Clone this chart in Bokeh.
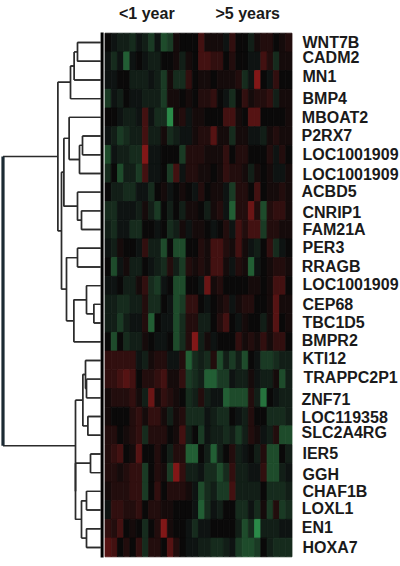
from bokeh.plotting import figure
from bokeh.models import Range1d, ColumnDataSource, LinearColorMapper
from bokeh.core.properties import value
from bokeh.embed import file_html
from bokeh.resources import INLINE

GENES = ["WNT7B","CADM2","MN1","BMP4","MBOAT2","P2RX7","LOC1001909","LOC1001909","ACBD5","CNRIP1",
         "FAM21A","PER3","RRAGB","LOC1001909","CEP68","TBC1D5","BMPR2","KTI12","TRAPPC2P1","ZNF71",
         "LOC119358","SLC2A4RG","IER5","GGH","CHAF1B","LOXL1","EN1","HOXA7"]
GROUPS = ["<1 year", ">5 years"]

# expression per gene (rows) and sample (columns): + red, - green
EXPR = [
 [0,-1,-2,-2,-3,-1,-2,-4,-1,-5,-4,1,0,0,0,4,1,1,1,-1,3,0,0,-2,1,2,2,0,1,2],
 [-1,-3,-1,-6,-1,0,-1,-2,-2,0,0,1,-2,1,0,4,4,3,3,0,2,0,0,-1,-1,4,2,-3,1,1],
 [-1,-1,0,0,-2,-2,-2,-1,-2,-4,1,-3,-3,3,0,1,1,0,1,1,1,2,-3,-1,7,0,-1,3,0,0],
 [-4,-1,-2,0,-1,-1,-2,-2,-2,-4,1,1,0,1,0,2,2,3,0,-1,-3,0,3,1,2,2,3,-2,1,1],
 [0,0,-1,-2,-2,-1,4,-1,-3,-3,-8,1,2,-1,1,1,0,0,0,4,4,1,0,5,5,0,0,0,0,1],
 [-1,-2,-4,-3,-2,-2,4,-2,-2,1,-3,-2,-1,-1,1,2,2,5,1,1,-3,1,1,-1,-1,-2,1,2,1,1],
 [-5,-1,-2,-2,-3,-3,7,-1,-1,0,0,0,-4,2,2,2,1,1,1,3,0,2,2,0,0,0,2,-1,2,0],
 [-3,0,-5,-2,-2,-4,4,-1,-1,0,-4,4,-1,2,2,1,1,0,1,3,2,2,1,-2,1,0,1,-1,-1,1],
 [0,-2,-2,-3,-3,-1,-1,-3,0,1,-1,0,1,0,-1,2,0,1,1,-1,-4,2,2,0,4,0,1,1,2,1],
 [-3,-3,-1,-1,-1,-2,1,-2,-4,0,-2,0,-2,1,1,0,-2,1,2,-1,-6,2,2,6,2,-5,2,3,3,1],
 [-2,-3,-1,-1,-3,-3,0,0,-1,0,-3,-2,1,-1,1,1,0,-1,0,2,-1,4,2,4,4,-4,2,2,1,1],
 [-1,-2,1,0,0,-1,3,-2,-2,-5,0,-5,-5,0,0,2,1,4,4,2,1,4,1,-1,-2,0,3,-3,-1,0],
 [0,-5,-1,1,-2,-2,0,-1,-2,-3,2,-2,-4,2,1,2,1,4,4,1,-1,2,1,-6,-1,0,1,2,2,1],
 [-1,-1,0,-2,-2,1,3,-3,-4,-1,0,-5,-5,0,0,-1,6,1,2,0,0,0,0,1,1,0,1,4,4,0],
 [-2,-2,-3,-3,-2,-2,2,-3,-3,0,-1,-5,-4,3,3,0,-1,0,1,2,-1,1,2,2,0,0,1,5,1,1],
 [-2,-2,-4,-2,-1,-1,2,-6,0,-1,-1,-5,-3,2,2,-2,-2,0,2,4,0,-1,1,0,0,-2,1,5,0,1],
 [0,-5,0,-3,-2,-2,1,0,-1,-1,0,-5,-3,2,7,-2,1,-1,0,0,0,3,1,2,1,3,1,3,3,0],
 [3,3,3,3,3,-1,-2,1,2,2,-1,-1,2,-6,-3,-2,-3,2,-5,-2,-4,-2,-5,0,-1,-4,-4,-3,-2,-2],
 [3,3,4,5,4,0,2,2,3,4,1,1,3,-4,-3,-2,-6,-6,-4,-4,-1,-2,-2,1,-1,-2,-2,1,-5,-2],
 [1,2,2,2,3,1,-2,6,1,3,2,1,0,-3,-2,2,-2,-1,-1,-6,-5,-5,-5,2,-2,-7,0,-1,-2,-2],
 [1,0,0,0,2,3,1,3,3,1,-2,1,2,-3,-3,-3,-1,-2,-3,-3,0,-1,-2,2,0,0,-3,-3,-3,-2],
 [2,2,0,1,2,3,-3,2,2,2,0,1,4,-2,0,-4,-1,-2,-2,-3,-2,-4,-2,2,1,-1,-2,2,-5,-5],
 [2,3,4,0,1,5,0,0,2,0,-2,2,2,-6,-6,0,-2,-6,-2,0,2,-2,-1,0,-2,2,-5,-5,0,-2],
 [2,2,1,2,3,3,-4,0,2,1,-4,7,3,-2,-2,-1,-3,-3,-5,-3,3,-2,-2,-1,-1,3,-5,-5,-2,-1],
 [1,2,2,2,3,3,-4,0,3,0,2,2,2,1,-1,-5,-3,-2,-4,-4,4,-2,-2,-2,-2,0,-3,-3,-3,-2],
 [-1,3,3,2,2,3,0,2,2,1,1,0,0,0,-1,-6,-3,-1,-2,0,0,-3,-3,-1,-3,1,-4,2,-4,-3],
 [3,2,4,0,1,0,-3,0,2,7,1,0,0,-1,-3,-1,-1,0,0,0,0,-2,-5,-3,-8,-2,-2,-2,-1,-1],
 [5,4,0,2,0,3,-3,2,2,0,5,2,0,-1,-1,-2,-2,-3,-3,-2,-1,-4,-5,-5,-4,0,-2,-3,-3,-3],
]

# hierarchical tree: (child, child, distance); ints are rows, tuples are sub-merges
CL_A = (((0, 1, 23), 2, 26.3), 3, 30)
CL_B = ((4, ((5, 6, 18), 7, 21), 31.3), (8, (9, 10, 19), 23), 36.7)
CL_C = ((11, 12, 23), ((13, (14, 15, 6.7), 14), 16, 26.7), 34)
CL_TOP = (CL_A, (CL_B, CL_C, 39), 42.7)
CL_D = ((17, (18, 19, 14), 15), (20, 21, 12.7), 17.7)
CL_E = ((22, 23, 10), ((24, 25, 14), (26, 27, 14), 19), 25)
CL_BOTTOM = (CL_D, CL_E, 25)
TREE = (CL_TOP, CL_BOTTOM, 97.5)

PX_X0, COL_W, PX_Y0, ROW_H = 104.5, 6.233, 32.7, 18.7
W, H = 400, 566

# text placement on the page (centre heights and left edges, in page pixels)
LABEL_Y = [42.3,57.3,76,97.7,117,135,154,174,191,211.7,229.3,247.3,266.3,284.3,304.3,322.3,339.7,
           357.7,376.7,399,416.7,431.7,453.3,474.3,490.7,508.3,527,547.3]
LABEL_X = [302,302,302,302,301.3,301,302,302,301,302,302,302,301.3,302,302,302,301.3,302,303,301,
           301,301,302,302,302,301.3,301.3,302]


def col_of(px):
    return (px - PX_X0) / COL_W - 0.5


def row_of(py):
    return (py - PX_Y0) / ROW_H - 0.5


def shade(v):
    if v >= 0:
        r = 10 + 10 * v + v * v
        return "#%02x%02x%02x" % (r, 9 + v * 2, 9 + v * 2)
    a = -v
    g = 10 + 8 * a + a * a
    return "#%02x%02x%02x" % (10 + a * 4, g, int(10 + g * 0.45))


palette = [shade(v) for v in range(-8, 9)]
mapper = LinearColorMapper(palette=palette, low=-8.5, high=8.5)

p = figure(width=W, height=H, output_backend="svg", toolbar_location=None,
           x_range=Range1d(col_of(0), col_of(W)), y_range=Range1d(row_of(H), row_of(0)),
           min_border=0, outline_line_color=None,
           background_fill_color="white", border_fill_color="white")
p.axis.visible = False
p.grid.visible = False
p.min_border_left = p.min_border_right = p.min_border_top = p.min_border_bottom = 0
p.styles = {"position": "absolute", "left": "0px", "top": "0px"}
p.extra_x_ranges = {"dist": Range1d(100, 100 - W)}

xs, ys, vs = [], [], []
for r, row in enumerate(EXPR):
    for c, v in enumerate(row):
        xs.append(c)
        ys.append(r)
        vs.append(v)
src = ColumnDataSource(dict(x=xs, y=ys, v=vs))
p.rect("x", "y", width=1, height=1, source=src,
       fill_color={"field": "v", "transform": mapper},
       line_color={"field": "v", "transform": mapper}, line_width=0.8)

# dendrogram
x0s, y0s, x1s, y1s = [], [], [], []


def walk(node):
    if isinstance(node, int):
        return 0.0, float(node)
    a, b, d = node
    xa, ya = walk(a)
    xb, yb = walk(b)
    if node is not TREE:
        x0s.extend([d, d])
        y0s.extend([ya, yb])
        x1s.extend([xa, xb])
        y1s.extend([ya, yb])
        x0s.append(d)
        y0s.append(ya)
        x1s.append(d)
        y1s.append(yb)
    return d, (ya + yb) / 2


walk(TREE)
p.segment(x0s, y0s, x1s, y1s, x_range_name="dist", line_color="#2b2b2b", line_width=1.4)

top_d, top_y = walk(CL_TOP)
bot_d, bot_y = walk(CL_BOTTOM)
root_d = TREE[2]
p.segment([root_d, root_d], [top_y, bot_y], [top_d, bot_d], [top_y, bot_y], x_range_name="dist",
          line_color="#2b2b2b", line_width=1.4)
p.segment([root_d], [top_y], [root_d], [bot_y], x_range_name="dist", line_color="#1c2a33", line_width=3.2)
p.segment([-1.6], [row_of(32)], [-1.6], [row_of(557)], x_range_name="dist",
          line_color="#000000", line_width=3)

# labels
p.text([col_of(v) for v in LABEL_X], [row_of(v) for v in LABEL_Y], text=GENES,
       text_font=value("Liberation Sans"), text_font_style="bold", text_font_size="16px",
       text_color="#1a1a1a", text_baseline="middle", text_align="left")
p.text([col_of(118.5), col_of(215)], [row_of(12.7), row_of(12.7)], text=GROUPS,
       text_font=value("Liberation Sans"), text_font_style="bold", text_font_size="16px",
       text_color="#1a1a1a", text_baseline="alphabetic", text_align="left")

open("out.html", "w").write(file_html(p, INLINE))
